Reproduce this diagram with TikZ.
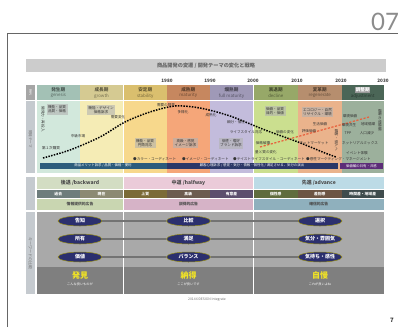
\documentclass[tikz,border=0pt]{standalone}
\usepackage{fontspec}
\setmainfont{Noto Sans CJK JP}
\newfontfamily\latofont{Lato}
\usetikzlibrary{shapes.geometric}
\definecolor{hgen}{HTML}{A3C1B5}
\definecolor{hgro}{HTML}{D5CA92}
\definecolor{hsta}{HTML}{DABF6E}
\definecolor{hmat}{HTML}{C6875F}
\definecolor{hful}{HTML}{9F99B7}
\definecolor{hdec}{HTML}{97A868}
\definecolor{hreg}{HTML}{B68E6E}
\definecolor{hadj}{HTML}{4B6657}
\definecolor{bgen}{HTML}{D2E8DC}
\definecolor{bgro}{HTML}{F5ECB5}
\definecolor{bsta}{HTML}{F7D88C}
\definecolor{bmat}{HTML}{F5A679}
\definecolor{bful}{HTML}{C3BCDC}
\definecolor{bdec}{HTML}{CBDF8F}
\definecolor{breg}{HTML}{EAB38C}
\definecolor{badj}{HTML}{9CB09C}
\definecolor{labcol}{HTML}{C5CACF}
\definecolor{navy}{HTML}{2B2F6E}
\definecolor{bluebar}{HTML}{2C5C7C}
\definecolor{navybar}{HTML}{2B3768}
\definecolor{purplebar}{HTML}{5C2D78}
\definecolor{kwyellow}{HTML}{F2E424}
\definecolor{redline}{HTML}{E8603C}
\definecolor{rowback}{HTML}{D3DDC3}
\definecolor{rowhalf}{HTML}{EBCBD9}
\definecolor{rowadv}{HTML}{BCDBE6}
\definecolor{adback}{HTML}{C9D6B1}
\definecolor{adhalf}{HTML}{D6B3C7}
\definecolor{adadv}{HTML}{8FB0BD}
\definecolor{kwgray}{HTML}{A9A9A9}
\definecolor{kwdark}{HTML}{7F7F7F}
\begin{document}
\begin{tikzpicture}[x=1pt,y=-1pt,inner sep=0pt,
  tiny/.style={font=\fontsize{3.6}{4}\selectfont, text=black!80},
  boxlab/.style={tiny, fill=black!30, fill opacity=0.6, text opacity=1, inner sep=1.5pt, align=center},
  hjp/.style={font=\fontsize{4.6}{5}\selectfont\bfseries},
  hen/.style={font=\fontsize{4.4}{5}\selectfont},
  year/.style={font=\fontsize{4.6}{5}\selectfont\bfseries, text=black!75},
  rowlab/.style={font=\fontsize{5}{6}\selectfont\bfseries, text=black!70},
  sublab/.style={font=\fontsize{3.8}{4}\selectfont\bfseries, text=white},
  adlab/.style={font=\fontsize{3.8}{4}\selectfont\bfseries, text=black!70},
  kw/.style={ellipse, fill=navy, draw=kwyellow!60!black, line width=0.5pt, minimum width=44pt, minimum height=10pt, font=\fontsize{5}{6}\selectfont\bfseries, text=white},
  kwline/.style={draw=black!55, line width=1.3pt},
  bigkw/.style={font=\fontsize{8}{9}\selectfont\bfseries, text=kwyellow},
  kwsub/.style={font=\fontsize{3.2}{4}\selectfont, text=white},
  vtext/.style={tiny, rotate=-90},
  barlab/.style={font=\fontsize{3.4}{4}\selectfont, text=white}]
\useasboundingbox (0,0) rectangle (398,327);
\fill[white] (0,0) rectangle (398,327);
% page frame and numbers
\draw[black!60, line width=0.8pt] (7,327) -- (7,33) -- (398,33);
\node[anchor=west, font=\latofont\fontsize{24}{24}\selectfont, text=black!45] (pgbig) at (371,22) {07};
\node[font=\fontsize{6}{6}\selectfont\bfseries, text=black!80] (pgsmall) at (392,320) {7};
% title
\fill[black!20] (26,59) rectangle (386,72);
\node[font=\fontsize{5.2}{6}\selectfont\bfseries, text=black!60] (title) at (206,65.5) {商品開発の変遷 / 開発テーマの変化と戦略};
% years
\foreach \yx/\yt in {167/1980,210/1990,253/2000,297/2010,341/2020,383/2030}
  \node[year] (y\yt) at (\yx,81) {\yt};
% left label column
\fill[black!35] (26,85) rectangle (35,100);
\node[font=\fontsize{3}{3}\selectfont, text=white, rotate=-90] (hlab) at (30.5,92.5) {時代};
\fill[labcol] (26,101) rectangle (35,173);
\node[vtext, text=black!55] (vlab1) at (30.5,139) {開発テーマ};
\fill[labcol] (26,177) rectangle (35,210);
\fill[labcol] (26,212) rectangle (35,294);
\node[vtext, text=black!55, font=\fontsize{4}{4}\selectfont] (vlab2) at (30.5,253) {キーワードの比較};
% stage columns
\foreach \xa/\xb/\hc/\bc/\jp/\en/\nm in {
  37/79.5/hgen/bgen/発生期/genesis/gen,
  80/123/hgro/bgro/成長期/growth/gro,
  124/166.5/hsta/bsta/安定期/stability/sta,
  167/209.5/hmat/bmat/成熟期/maturity/mat,
  210/253/hful/bful/爛熟期/full maturity/ful,
  254/297.5/hdec/bdec/衰退期/decline/dec,
  298/341.5/hreg/breg/変革期/regenerate/reg,
  342/383.5/hadj/badj/調整期/adjustment/adj}{
  \fill[\hc] (\xa,85) rectangle (\xb,100);
  \fill[\bc] (\xa,101) rectangle (\xb,173);
  \node[hjp, text=\hc!45!black] (j\nm) at ({(\xa+\xb)/2},90) {\jp};
  \node[hen, text=\hc!55!black] (e\nm) at ({(\xa+\xb)/2},95.8) {\en};
}
\node[hjp, text=white, fill=black!40, inner sep=0.8pt] (jadj2) at (362.75,90) {調整期};
% boxes in chart
\node[boxlab] (bx1) at (57,109.5) {機能・品質\\品質・価格};
\node[boxlab] (bx2) at (101,110) {機能・デザイン\\価格訴求};
\node[boxlab] (bx3) at (145,143) {機能・品質\\円筒対応};
\node[boxlab] (bx4) at (185.5,143) {高級・感覚\\イメージ訴求};
\node[boxlab] (bx5) at (231,143.5) {個性・嗜好\\ブランド訴求};
\node[boxlab] (bx6) at (275,111) {価値・品質\\目的・価値};
\node[boxlab] (bx7) at (317.5,112) {エコロジー・自然\\リサイクル・環境};
% dotted curve
\draw[line width=1.5pt, dash pattern=on 1.5pt off 1.3pt]
  plot[smooth] coordinates {(43,158) (70,150) (100,137) (125,122) (150,112) (175,106) (200,108) (230,116) (265,130) (298,142) (325,153) (336,157)};
% red dashed
\draw[redline, line width=1.2pt, dash pattern=on 2.2pt off 1.5pt] (260,147) -- (369,117);
% chart labels
\node[tiny] (l1) at (51,148) {第１次購買};
\node[tiny] (l2) at (78,136) {中級市場};
\node[tiny] (l3) at (118,117) {需要変化};
\node[tiny] (l4) at (166,105.5) {需要の限界};
\node[tiny] (l5) at (183,112) {多様化};
\node[tiny] (l6) at (211,115) {成熟化};
\node[tiny] (l7) at (236,122) {細分・個性};
\node[tiny] (l8) at (246,132) {ライフスタイル対応};
\node[tiny] (l9) at (285,132) {価値の変化};
\node[tiny] (l10) at (263,143) {価格破壊};
\node[tiny] (l11) at (266,152) {量と質の変化};
\node[tiny] (l12) at (320,124) {生活価値};
\node[tiny] (l13) at (309,131) {評価価値};
\node[tiny] (l14) at (314,143) {ネットマーケット};
\node[tiny] (l15) at (350,116) {環境価値};
\node[tiny] (l16) at (349,125) {環境共生};
\node[tiny] (l17) at (368,124) {地域循環};
\node[tiny] (l18) at (348,133) {TPP};
\node[tiny] (l19) at (367,133) {人口減少};
\node[tiny] (l20) at (360,143) {ネットリアルミックス};
\node[tiny] (l21) at (357,153) {イベント体験};
\node[vtext] (v1) at (43,119) {開発力・再投入};
\node[vtext] (v2) at (336.5,140) {顧客・個人へ};
\node[vtext] (v3) at (380,120) {顧客の価値観};
\node[tiny, anchor=west] (c1) at (133,159) {●カラー・コーディネート};
\node[tiny, anchor=west] (c2) at (182,159) {●イメージ・コーディネート};
\node[tiny, anchor=west] (c3) at (233,159) {●テイストライフスタイル・コーディネート};
\node[tiny, anchor=west] (c4) at (306,159) {●感性マーケティング・マネージメント};
% bars
\fill[bluebar] (40,163) rectangle (166.5,168.5);
\node[barlab] (bar1) at (103,165.8) {商品メリット訴求 / 品質・価格・便利};
\fill[navybar] (167,163) rectangle (338,168.5);
\node[barlab] (bar2) at (252,165.8) {顧客心理訴求 / 感覚・気分・情報・個性化 / 満足させる、気分の演出};
\fill[purplebar] (340,163) rectangle (383,168.5);
\node[barlab] (bar3) at (361.5,165.8) {価値観の共有・共感};
% rows
\fill[rowback] (37,177) rectangle (123,188.5);
\fill[rowhalf] (124,177) rectangle (253,188.5);
\fill[rowadv] (254,177) rectangle (383.5,188.5);
\node[rowlab] (r1) at (80,183) {後退 /backward};
\node[rowlab] (r2) at (188.5,183) {中道 /halfway};
\node[rowlab] (r3) at (318.75,183) {先進 /advance};
\foreach \xa/\xb/\cc/\tt/\nm in {37/79.5/6E7D7C/過去/a,80/123/8C8A73/現在/b,124/166.5/7B6B37/上質/c,167/209.5/6C5C50/高級/d,210/253/5D4F6E/有意差/e,254/297.5/5F6C3D/個性感/f,298/341.5/6D5544/差別感/g,342/383.5/3F4C4D/時間差・地域差/h}{
  \definecolor{subc}{HTML}{\cc}
  \fill[subc] (\xa,190) rectangle (\xb,197.5);
  \node[sublab] (s\nm) at ({(\xa+\xb)/2},193.8) {\tt};
}
\fill[adback] (37,199) rectangle (123,210);
\fill[adhalf] (124,199) rectangle (253,210);
\fill[adadv] (254,199) rectangle (383.5,210);
\node[adlab] (a1) at (80,204.5) {情報提供的広告};
\node[adlab] (a2) at (188.5,204.5) {説得的広告};
\node[adlab] (a3) at (318.75,204.5) {確信的広告};
% keyword section
\foreach \xa/\xb in {37/123,124/253,254/383.5}{
  \fill[kwgray] (\xa,212) rectangle (\xb,267);
  \fill[kwdark] (\xa,267) rectangle (\xb,294);
}
\node[kw] (k11) at (80,221) {告知};
\node[kw] (k12) at (80,239) {所有};
\node[kw] (k13) at (80,257) {価値};
\node[kw] (k21) at (188.5,221) {比較};
\node[kw] (k22) at (188.5,239) {満足};
\node[kw] (k23) at (188.5,257) {バランス};
\node[kw] (k31) at (320,221) {選択};
\node[kw] (k32) at (320,239) {気分・雰囲気};
\node[kw] (k33) at (320,257) {気持ち・感性};
\foreach \r in {1,2,3}{
  \draw[kwline] (k1\r) -- (k2\r);
  \draw[kwline] (k2\r) -- (k3\r);
}
\node[bigkw] (w1) at (80,275.5) {発見};
\node[kwsub] (w1s) at (80,284.5) {こんな良いものが};
\node[bigkw] (w2) at (188.5,275.5) {納得};
\node[kwsub] (w2s) at (188.5,284.5) {ここが良いです};
\node[bigkw] (w3) at (320,275.5) {自慢};
\node[kwsub] (w3s) at (320,284.5) {これが良いよね};
% credit
\node[font=\fontsize{3.4}{4}\selectfont, text=black!55] (credit) at (207,300) {2014©DESIGN Integrate};
\end{tikzpicture}
\end{document}
